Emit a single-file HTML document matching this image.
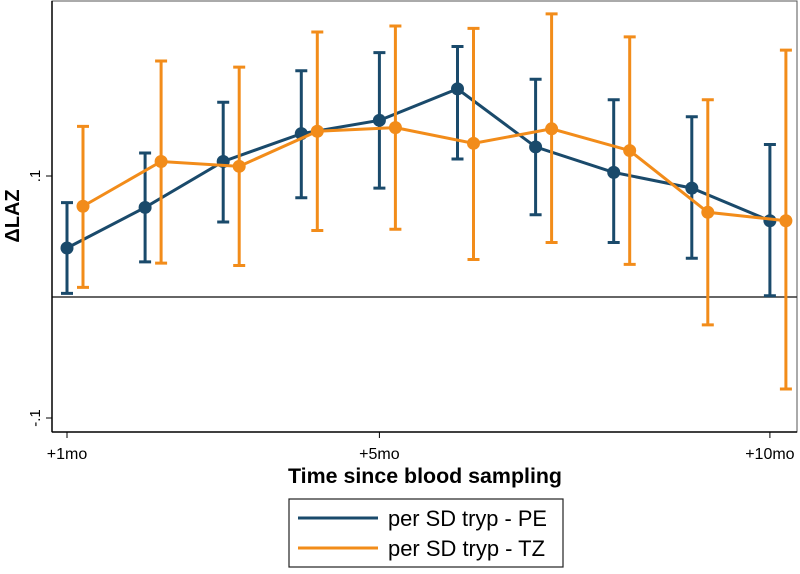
<!DOCTYPE html>
<html><head><meta charset="utf-8"><style>
body{margin:0;background:#fff;font-family:"Liberation Sans",sans-serif}
</style></head><body>
<svg width="800" height="569" xmlns="http://www.w3.org/2000/svg">
<rect x="0" y="0" width="800" height="569" fill="#fff"/>
<g id="plot"></g>
<text x="425" y="483" font-size="21" font-weight="bold" text-anchor="middle" textLength="274" lengthAdjust="spacingAndGlyphs">Time since blood sampling</text>
<text transform="translate(19,216) rotate(-90)" font-size="20" font-weight="bold" text-anchor="middle">ΔLAZ</text>
<g>
<rect x="289" y="499" width="274" height="68" fill="#fff" stroke="#222" stroke-width="1.2"/>
<line x1="298" y1="518" x2="378" y2="518" stroke="#1a4a6b" stroke-width="3"/>
<text x="388" y="526" font-size="22" textLength="159" lengthAdjust="spacingAndGlyphs">per SD tryp - PE</text>
<line x1="298" y1="548" x2="378" y2="548" stroke="#f28c1a" stroke-width="3"/>
<text x="388" y="556" font-size="22" textLength="157" lengthAdjust="spacingAndGlyphs">per SD tryp - TZ</text>
</g>
</svg>
<script>
const months=[1,2,3,4,5,6,7,8,9,10];
const peEst=[0.0405,0.074,0.112,0.135,0.146,0.172,0.124,0.103,0.090,0.063];
const peLo=[0.003,0.029,0.062,0.082,0.090,0.114,0.068,0.045,0.032,0.001];
const peHi=[0.078,0.119,0.161,0.187,0.202,0.207,0.180,0.163,0.149,0.126];
const tzEst=[0.075,0.112,0.108,0.137,0.140,0.127,0.139,0.121,0.070,0.063];
const tzLo=[0.008,0.028,0.026,0.055,0.056,0.031,0.045,0.027,-0.023,-0.076];
const tzHi=[0.141,0.195,0.190,0.219,0.224,0.222,0.234,0.215,0.163,0.204];
const yTicks=[-0.1,0.1];
const yTickLabels=["-.1",".1"];
const xTicks=[1,5,10];
const xTickLabels=["+1mo","+5mo","+10mo"];
const NS="http://www.w3.org/2000/svg";
const g=document.getElementById('plot');
const X=m=>67+(m-1)*78.1;
const Y=v=>297-v*1210;
function mk(t,a){const e=document.createElementNS(NS,t);for(const k in a)e.setAttribute(k,a[k]);g.appendChild(e);return e;}
let e=mk('rect',{x:52,y:1,width:745,height:431,fill:'none',stroke:'#555','stroke-width':1});


e=mk('line',{x1:52,x2:797,y1:Y(0),y2:Y(0),stroke:'#333','stroke-width':1.5});


e=mk('line',{x1:52,x2:52,y1:1,y2:432,stroke:'#000','stroke-width':1.5});


e=mk('line',{x1:52,x2:797,y1:432,y2:432,stroke:'#000','stroke-width':1.5});


yTicks.forEach((v,i)=>{
 let t=mk('line',{x1:46,x2:52,y1:Y(v),y2:Y(v),stroke:'#000'});
 
 
 let l=mk('text',{transform:`translate(40,${Y(v)}) rotate(-90)`,'font-size':15,'text-anchor':'middle'});
 l.textContent=yTickLabels[i];
 
 
});
xTicks.forEach((m,i)=>{
 let t=mk('line',{x1:X(m),x2:X(m),y1:432,y2:438,stroke:'#000'});
 
 
 let l=mk('text',{x:X(m),y:459,'font-size':16,'text-anchor':'middle'});
 l.textContent=xTickLabels[i];
 
 
});
function series(est,lo,hi,off,col,name){
 months.forEach((m,i)=>{
  const x=X(m)+off;
  let b=mk('path',{d:`M${x},${Y(lo[i])}V${Y(hi[i])}M${x-6},${Y(lo[i])}H${x+6}M${x-6},${Y(hi[i])}H${x+6}`,stroke:col,'stroke-width':3,fill:'none'});
  
  
 });
 let p=mk('polyline',{points:months.map((m,i)=>`${X(m)+off},${Y(est[i])}`).join(' '),fill:'none',stroke:col,'stroke-width':3});
 
 
 months.forEach((m,i)=>{
  let c=mk('circle',{cx:X(m)+off,cy:Y(est[i]),r:6.5,fill:col});
  
  
 });
}
series(peEst,peLo,peHi,0,'#1a4a6b','pe');
series(tzEst,tzLo,tzHi,16,'#f28c1a','tz');
</script>
</body></html>
